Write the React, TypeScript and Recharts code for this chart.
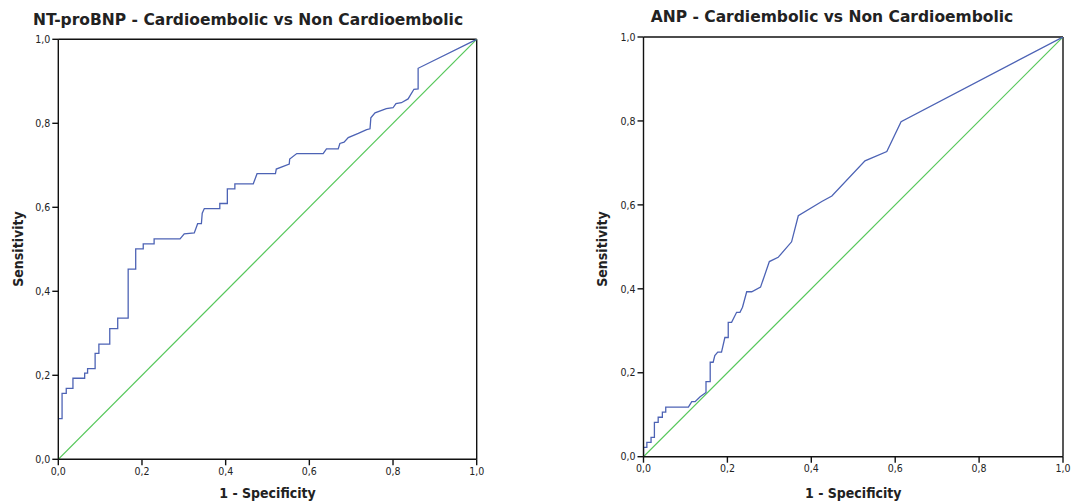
import { LineChart, Line, XAxis, YAxis, ReferenceLine } from 'recharts';

// NT-proBNP ROC curve (1 - specificity, sensitivity)
const ntFpr = [0, 0, 0.009, 0.009, 0.019, 0.019, 0.035, 0.035, 0.063, 0.063, 0.07, 0.07, 0.088, 0.088, 0.097, 0.097, 0.123, 0.123, 0.142, 0.142, 0.167, 0.167, 0.185, 0.185, 0.203, 0.203, 0.229, 0.229, 0.291, 0.301, 0.325, 0.333, 0.342, 0.344, 0.349, 0.386, 0.386, 0.404, 0.404, 0.422, 0.422, 0.466, 0.475, 0.519, 0.521, 0.552, 0.553, 0.57, 0.633, 0.641, 0.669, 0.673, 0.683, 0.693, 0.717, 0.737, 0.745, 0.747, 0.757, 0.784, 0.8, 0.807, 0.82, 0.836, 0.85, 0.86, 0.86, 1];
const ntTpr = [0, 0.097, 0.097, 0.157, 0.157, 0.169, 0.169, 0.193, 0.193, 0.205, 0.205, 0.216, 0.216, 0.252, 0.252, 0.274, 0.274, 0.311, 0.311, 0.336, 0.336, 0.453, 0.453, 0.501, 0.501, 0.513, 0.513, 0.525, 0.525, 0.537, 0.539, 0.561, 0.561, 0.586, 0.597, 0.597, 0.609, 0.609, 0.644, 0.644, 0.656, 0.656, 0.68, 0.68, 0.691, 0.703, 0.715, 0.728, 0.728, 0.739, 0.739, 0.752, 0.755, 0.766, 0.776, 0.785, 0.787, 0.813, 0.825, 0.835, 0.837, 0.847, 0.849, 0.858, 0.881, 0.882, 0.931, 1];

// ANP ROC curve
const anpFpr = [0, 0, 0.008, 0.008, 0.018, 0.018, 0.026, 0.026, 0.035, 0.035, 0.045, 0.045, 0.053, 0.053, 0.107, 0.115, 0.123, 0.135, 0.149, 0.149, 0.159, 0.159, 0.166, 0.17, 0.177, 0.186, 0.194, 0.202, 0.202, 0.21, 0.222, 0.23, 0.236, 0.246, 0.258, 0.279, 0.3, 0.321, 0.353, 0.369, 0.425, 0.449, 0.528, 0.58, 0.614, 1];
const anpTpr = [0, 0.022, 0.022, 0.034, 0.034, 0.046, 0.046, 0.082, 0.082, 0.094, 0.094, 0.106, 0.106, 0.118, 0.118, 0.131, 0.131, 0.143, 0.153, 0.179, 0.179, 0.225, 0.225, 0.241, 0.249, 0.249, 0.284, 0.284, 0.32, 0.32, 0.344, 0.344, 0.356, 0.393, 0.393, 0.404, 0.465, 0.475, 0.512, 0.574, 0.608, 0.621, 0.705, 0.727, 0.798, 1];

const axisTicks = [0, 0.2, 0.4, 0.6, 0.8, 1];
const diagonal = [{ fpr: 0, tpr: 0 }, { fpr: 1, tpr: 1 }];

const fmt = (v: number) => v.toFixed(1).replace('.', ',');

const tickStyle = { fontSize: 10.5, fill: '#222', fontFamily: '"DejaVu Sans Condensed", "DejaVu Sans", sans-serif' };
const labelFont = '"DejaVu Sans Condensed", "DejaVu Sans", sans-serif';

interface PanelProps {
  left: number;
  width: number;
  title: string;
  fpr: number[];
  tpr: number[];
  margin: { top: number; right: number; bottom: number; left: number };
  titleX: number;
  titleY: number;
  sensX: number;
  specY: number;
}

function RocPanel({ left, width, title, fpr, tpr, margin, titleX, titleY, sensX, specY }: PanelProps) {
  const data = fpr.map((x, i) => ({ fpr: x, tpr: tpr[i] }));
  const plotW = width - margin.left - 40 - margin.right;
  const centerX = margin.left + 40 + plotW / 2;
  return (
    <div style={{ position: 'absolute', left, top: 0, width, height: 503 }}>
      <div
        style={{
          position: 'absolute', left: titleX, top: titleY, transform: 'translateX(-50%)', whiteSpace: 'nowrap',
          fontFamily: '"DejaVu Sans", sans-serif', fontWeight: 'bold', fontSize: 15.5, color: '#222'
        }}
      >
        {title}
      </div>
      <div
        style={{
          position: 'absolute', left: sensX, top: 249, transform: 'translate(-50%, -50%) rotate(-90deg)', whiteSpace: 'nowrap',
          fontFamily: labelFont, fontWeight: 'bold', fontSize: 14, color: '#222'
        }}
      >
        Sensitivity
      </div>
      <div
        style={{
          position: 'absolute', left: centerX, top: specY, transform: 'translateX(-50%)', whiteSpace: 'nowrap',
          fontFamily: labelFont, fontWeight: 'bold', fontSize: 14, color: '#222'
        }}
      >
        1 - Specificity
      </div>
      <LineChart width={width} height={503} margin={margin} style={{ position: 'absolute', left: 0, top: 0 }}>
        <XAxis
          type="number" dataKey="fpr" domain={[0, 1]} ticks={axisTicks} tickFormatter={fmt}
          stroke="#111" strokeWidth={1.4} tickSize={6} tick={tickStyle} height={30} allowDataOverflow
        />
        <YAxis
          type="number" dataKey="tpr" domain={[0, 1]} ticks={axisTicks} tickFormatter={fmt}
          stroke="#111" strokeWidth={1.4} tickSize={6} tick={tickStyle} width={40} allowDataOverflow
        />
        <ReferenceLine y={1} stroke="#111" strokeWidth={1.4} />
        <ReferenceLine x={1} stroke="#111" strokeWidth={1.4} />
        <Line data={diagonal} dataKey="tpr" type="linear" stroke="#55c75a" strokeWidth={1.2} dot={false} isAnimationActive={false} />
        <Line data={data} dataKey="tpr" type="linear" stroke="#4d63b5" strokeWidth={1.3} dot={false} isAnimationActive={false} />
      </LineChart>
    </div>
  );
}

export default function App() {
  return (
    <div style={{ position: 'absolute', left: 0, top: 0, width: 1073, height: 503, background: '#fff', overflow: 'hidden' }}>
      <RocPanel
        left={0} width={536} title="NT-proBNP - Cardioembolic vs Non Cardioembolic"
        fpr={ntFpr} tpr={ntTpr}
        margin={{ top: 39.3, right: 59.3, bottom: 13.7, left: 18.3 }}
        titleX={248} titleY={11} sensX={18} specY={485}
      />
      <RocPanel
        left={536} width={537} title="ANP - Cardiembolic vs Non Cardioembolic"
        fpr={anpFpr} tpr={anpTpr}
        margin={{ top: 37, right: 10, bottom: 16.3, left: 67.5 }}
        titleX={296} titleY={8} sensX={66} specY={485}
      />
    </div>
  );
}
